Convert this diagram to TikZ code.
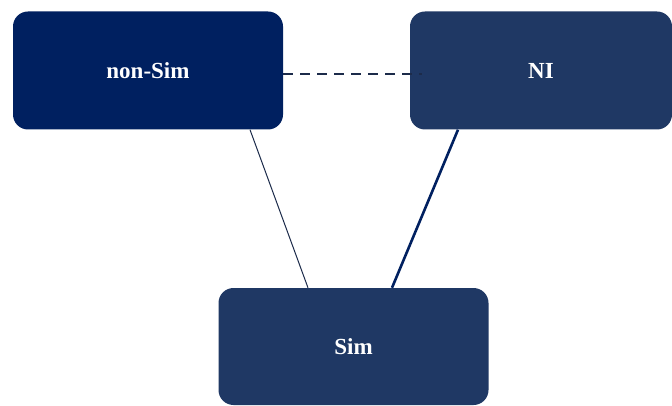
\documentclass[tikz,border=0pt]{standalone}
\usepackage{fontspec}
\setmainfont{Liberation Serif}
\definecolor{navyA}{HTML}{002060}
\definecolor{navyB}{HTML}{1F3864}
\definecolor{lineA}{HTML}{1C2B4A}
\begin{document}
\begin{tikzpicture}[x=1pt,y=-1pt,
  box/.style={draw=none,rounded corners=15pt,minimum width=270pt,minimum height=118pt,
    text=white,font=\fontsize{23}{26}\selectfont\bfseries,inner sep=0pt}]
\useasboundingbox[fill=white] (0,0) rectangle (672,406);
\node[box,fill=navyA,minimum width=270pt] (nonsim) at (148,70.5) {non-Sim};
\node[box,fill=navyB,minimum width=262pt] (ni) at (541,70.5) {NI};
\node[box,fill=navyB,minimum width=270pt,minimum height=117pt] (sim) at (353.5,346.5) {Sim};
\draw[lineA,line width=2pt,dash pattern=on 10pt off 7pt] ([yshift=-3.5pt]nonsim.east) -- ([xshift=12pt,yshift=-3.5pt]ni.west);
\draw[lineA,line width=1pt] ([xshift=102pt]nonsim.south) -- ([xshift=-45.5pt]sim.north);
\draw[navyA,line width=2.6pt] ([xshift=-83pt]ni.south) -- ([xshift=38.5pt]sim.north);
\end{tikzpicture}
\end{document}
